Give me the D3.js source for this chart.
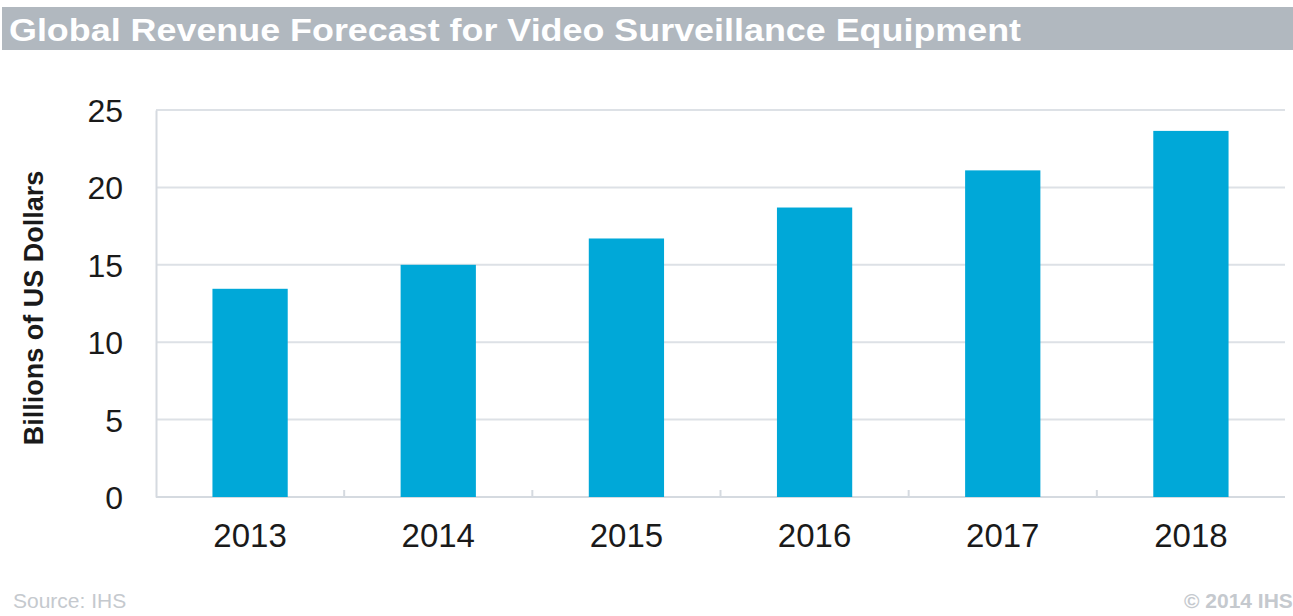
<!DOCTYPE html>
<html>
<head>
<meta charset="utf-8">
<script src="https://cdn.jsdelivr.net/npm/d3@7"></script>
<style>
  body { margin: 0; background: #fff; }
  svg { display: block; font-family: "Liberation Sans", Arial, sans-serif; }
</style>
</head>
<body>
<div id="chart"></div>
<script>
// chart data
const years = ["2013", "2014", "2015", "2016", "2017", "2018"];
const revenue = [13.45, 15.0, 16.7, 18.7, 21.1, 23.65];
const yTicks = [0, 5, 10, 15, 20, 25];

const W = 1293, H = 616;
const margin = { top: 110, right: 8, bottom: 120, left: 156 };

const svg = d3.select("#chart")
    .append("svg")
    .attr("width", W)
    .attr("height", H);

// title bar
svg.append("rect")
    .attr("x", 2)
    .attr("y", 7)
    .attr("width", W - 2)
    .attr("height", 43)
    .attr("fill", "#b1b8bf");

svg.append("text")
    .attr("x", 9)
    .attr("y", 41)
    .attr("fill", "#fff")
    .style("font-size", "31px")
    .style("font-weight", "bold")
    .attr("textLength", 1012)
    .attr("lengthAdjust", "spacingAndGlyphs")
    .text("Global Revenue Forecast for Video Surveillance Equipment");

const width = W - margin.left - margin.right;
const height = 497 - margin.top;

const g = svg.append("g")
    .attr("transform", `translate(${margin.left},${margin.top})`);

const x = d3.scaleBand()
    .domain(years)
    .range([0, width])
    .paddingInner(0.6)
    .paddingOuter(0.3);

const y = d3.scaleLinear()
    .domain([0, 25])
    .range([height, 0]);

// gridlines
g.selectAll(".grid")
    .data(yTicks.filter(d => d > 0))
    .enter()
    .append("line")
    .attr("class", "grid")
    .attr("x1", 0)
    .attr("x2", width)
    .attr("y1", d => y(d))
    .attr("y2", d => y(d))
    .attr("stroke", "#dde1e6")
    .attr("stroke-width", 2);

// y axis
const yAxis = g.append("g")
    .call(d3.axisLeft(y).tickValues(yTicks).tickSize(0).tickPadding(33));
yAxis.select(".domain").attr("stroke", "#d5dae0").attr("stroke-width", 2);
yAxis.selectAll("text")
    .attr("fill", "#1a1a1a")
    .style("font-size", "32px")
    .style("font-family", "Liberation Sans, Arial, sans-serif")
    .attr("dy", "0.36em");

// x axis with ticks at band boundaries
const step = x.step();
const boundaries = d3.range(1, years.length).map(i => x(years[i]) - (step - x.bandwidth()) / 2);
g.append("line")
    .attr("x1", 0)
    .attr("x2", width)
    .attr("y1", height)
    .attr("y2", height)
    .attr("stroke", "#d5dae0")
    .attr("stroke-width", 2);
g.selectAll(".xtick")
    .data(boundaries)
    .enter()
    .append("line")
    .attr("class", "xtick")
    .attr("x1", d => d)
    .attr("x2", d => d)
    .attr("y1", height)
    .attr("y2", height - 7)
    .attr("stroke", "#d5dae0")
    .attr("stroke-width", 2);

g.selectAll(".xlabel")
    .data(years)
    .enter()
    .append("text")
    .attr("class", "xlabel")
    .attr("x", d => x(d) + x.bandwidth() / 2)
    .attr("y", height + 50)
    .attr("text-anchor", "middle")
    .attr("fill", "#1a1a1a")
    .style("font-size", "33px")
    .text(d => d);

// bars
g.selectAll(".bar")
    .data(years)
    .enter()
    .append("rect")
    .attr("class", "bar")
    .attr("x", d => x(d))
    .attr("y", (d, i) => y(revenue[i]))
    .attr("width", x.bandwidth())
    .attr("height", (d, i) => height - y(revenue[i]))
    .attr("fill", "#00a8d8");

// y axis title
svg.append("text")
    .attr("transform", "translate(43,308) rotate(-90)")
    .attr("text-anchor", "middle")
    .attr("fill", "#1a1a1a")
    .style("font-size", "27px")
    .style("font-weight", "bold")
    .text("Billions of US Dollars");

// footer
svg.append("text")
    .attr("x", 13)
    .attr("y", 608)
    .attr("fill", "#c5c9ce")
    .style("font-size", "21px")
    .text("Source: IHS");

svg.append("text")
    .attr("x", 1184)
    .attr("y", 608)
    .attr("fill", "#c5c9ce")
    .style("font-size", "21px")
    .style("font-weight", "bold")
    .text("© 2014 IHS");
</script>
</body>
</html>
